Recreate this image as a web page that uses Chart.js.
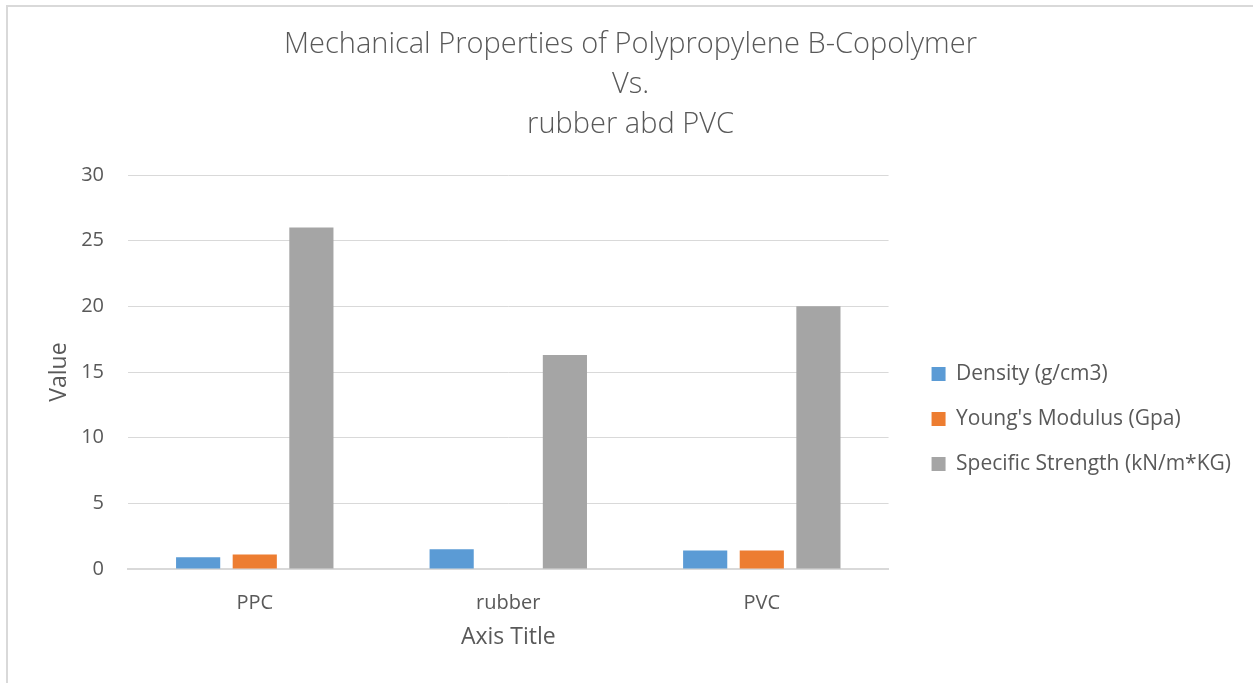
<!DOCTYPE html>
<html>
<head>
<meta charset="utf-8">
<script src="https://cdn.jsdelivr.net/npm/chart.js@4.4.0/dist/chart.umd.min.js"></script>
<style>
  html, body { margin: 0; padding: 0; background: #fff; }
  .frame {
    position: absolute; left: 6px; top: 5px; width: 1247px; height: 678px;
    border-left: 2px solid #d9d9d9; border-top: 2px solid #d9d9d9;
  }
  .frame canvas { display: block; }
</style>
</head>
<body>
<div class="frame"><canvas id="chart" width="1245" height="676"></canvas></div>
<script>
const categories = ['PPC', 'rubber', 'PVC'];
const density = [0.9, 1.5, 1.4];
const youngsModulus = [1.1, 0, 1.4];
const specificStrength = [26, 16.3, 20];
const yTicks = [0, 5, 10, 15, 20, 25, 30];

const textColor = '#595959';
const fontFamily = "'Open Sans', 'Noto Sans', sans-serif";

// the legend entries sit a bit below the middle of the plot
const legendShift = {
  id: 'legendShift',
  afterLayout(chart) {
    const lg = chart.legend;
    if (!lg) return;
    lg.top += 90;
    lg.bottom += 90;
  }
};

new Chart(document.getElementById('chart'), {
  type: 'bar',
  data: {
    labels: categories,
    datasets: [
      { label: 'Density (g/cm3)', data: density, backgroundColor: '#5B9BD5' },
      { label: "Young's Modulus (Gpa)", data: youngsModulus, backgroundColor: '#ED7D31' },
      { label: 'Specific Strength (kN/m*KG)', data: specificStrength, backgroundColor: '#A5A5A5' }
    ]
  },
  options: {
    responsive: false,
    animation: false,
    categoryPercentage: 0.67,
    barPercentage: 0.78,
    layout: { padding: { left: 12, right: 12, top: 0, bottom: 32 } },
    plugins: {
      title: {
        display: true,
        text: ['Mechanical Properties of Polypropylene B-Copolymer', 'Vs.', 'rubber abd PVC'],
        color: textColor,
        font: { family: fontFamily, size: 29, weight: 300, lineHeight: 1.38 },
        padding: { top: 18, bottom: 30 }
      },
      legend: {
        position: 'right',
        maxWidth: 400,
        labels: {
          color: textColor,
          font: { family: fontFamily, size: 21 },
          boxWidth: 14, boxHeight: 14,
          padding: 24
        }
      },
      tooltip: { enabled: false }
    },
    scales: {
      x: {
        grid: { display: false },
        border: { color: '#d9d9d9', width: 2 },
        ticks: { color: textColor, font: { family: fontFamily, size: 20 }, padding: 14 },
        title: { display: true, text: 'Axis Title', color: textColor, font: { family: fontFamily, size: 23 }, padding: { top: 4, bottom: 0 } },
        afterFit: (axis) => { axis.height = 82; }
      },
      y: {
        min: 0, max: 30,
        afterBuildTicks: (axis) => { axis.ticks = yTicks.map(v => ({ value: v })); },
        grid: { color: '#d9d9d9', drawTicks: false },
        border: { display: false },
        ticks: { color: textColor, font: { family: fontFamily, size: 20 }, padding: 24 },
        title: { display: true, text: 'Value', color: textColor, font: { family: fontFamily, size: 23 }, padding: { top: 26, bottom: 0 } },
        afterFit: (axis) => { axis.width = 108; }
      },
      gap: {
        position: 'right',
        display: true,
        grid: { display: false },
        border: { display: false },
        ticks: { display: false },
        afterFit: (axis) => { axis.width = 19; }
      }
    }
  },
  plugins: [legendShift]
});
</script>
</body>
</html>
